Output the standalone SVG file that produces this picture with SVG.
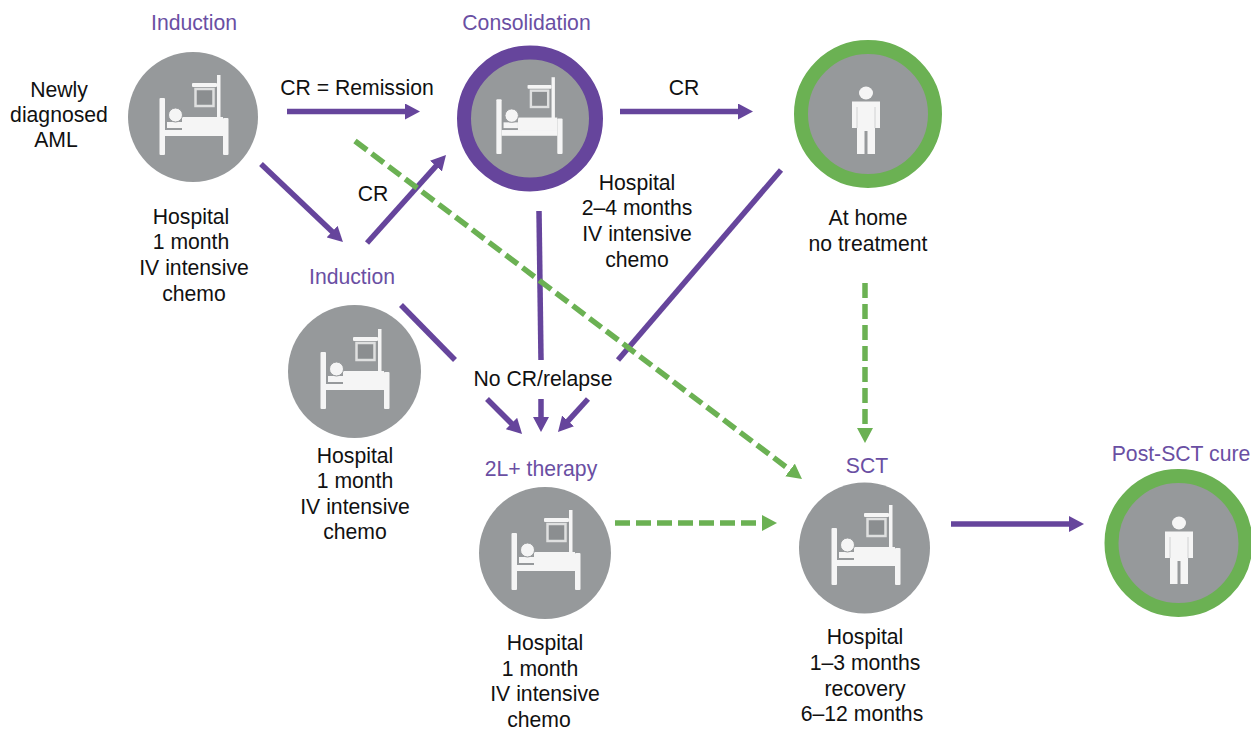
<svg xmlns="http://www.w3.org/2000/svg" width="1251" height="729" viewBox="0 0 1251 729">
<style>
text{font-family:"Liberation Sans",Arial,sans-serif;font-size:21.2px;fill:#111;text-anchor:middle}
.t{fill:#6a4fa3}
.c{fill:#96999b}
.rp{fill:#96999b;stroke:#66459c;stroke-width:14}
.rg{fill:#96999b;stroke:#6bb153;stroke-width:14}
.p{fill:none;stroke:#66459c;stroke-width:5.5}
.g{fill:none;stroke:#6bb153;stroke-width:5.5;stroke-dasharray:15 6}
.w{fill:#f5f5f5}
</style>
<defs>
<marker id="ap" markerUnits="userSpaceOnUse" markerWidth="15" markerHeight="16" refX="5" refY="8" orient="auto" viewBox="0 0 15 16"><path d="M0 0L15 8L0 16Z" fill="#66459c"/></marker>
<marker id="ag" markerUnits="userSpaceOnUse" markerWidth="15" markerHeight="16" refX="5" refY="8" orient="auto" viewBox="0 0 15 16"><path d="M0 0L15 8L0 16Z" fill="#6bb153"/></marker>
<g id="bed">
<rect class="w" x="-33.500" y="-20" width="5.500" height="57" rx="1"/>
<rect class="w" x="30" y="0" width="5.500" height="37" rx="1"/>
<rect class="w" x="-28" y="12" width="58" height="6"/>
<rect class="w" x="-11" y="-1" width="41" height="13"/>
<rect class="w" x="-26" y="4" width="15" height="6"/>
<circle cx="-17.500" cy="-3" r="7" fill="#f5f5f5" stroke="#96999b" stroke-width="1"/>
<rect class="w" x="24" y="-43" width="3.500" height="44"/>
<rect class="w" x="-1" y="-35" width="25" height="4" rx="1"/>
<rect x="2.500" y="-29" width="18" height="17" fill="#8b8e90" stroke="#dfe0e0" stroke-width="2.500"/>
</g>
<g id="person">
<ellipse class="w" cx="0" cy="-21" rx="7" ry="6.500"/>
<path class="w" d="M-14 -12.500H14V14H9V40H1.500V17H-1.500V40H-9V14H-14Z"/>
<path d="M-9 -7V14M9 -7V14" stroke="#d0d1d2" stroke-width="1" fill="none"/>
</g>
</defs>
<g id="connectors">
<path class="p" d="M287 111.500H410" marker-end="url(#ap)"/>
<path class="p" d="M620 111.500H743" marker-end="url(#ap)"/>
<path class="p" d="M261 164L335.700 235.100" marker-end="url(#ap)"/>
<path class="p" d="M367 243L439.300 162.400" marker-end="url(#ap)"/>
<path class="p" d="M539 211L541 360"/>
<path class="p" d="M541 399V422" marker-end="url(#ap)"/>
<path class="p" d="M401 305L455 360"/>
<path class="p" d="M487 399L515 427" marker-end="url(#ap)"/>
<path class="p" d="M781 170L618 360"/>
<path class="p" d="M588 399L564.700 424.600" marker-end="url(#ap)"/>
<path class="p" d="M951 524H1074" marker-end="url(#ap)"/>
<path class="g" d="M355 141L794 473" marker-end="url(#ag)"/>
<path class="g" d="M865 283V433" marker-end="url(#ag)"/>
<path class="g" d="M615 523H767" marker-end="url(#ag)"/>
<text x="357" y="95">CR = Remission</text>
<text x="684" y="95">CR</text>
<text x="373" y="201">CR</text>
</g>
<g id="node-start"><text x="59" y="97">Newly</text><text x="59" y="122">diagnosed</text><text x="56" y="147">AML</text></g>
<g id="node-induction1">
<text class="t" x="194" y="30">Induction</text>
<circle class="c" cx="193" cy="117" r="65"/>
<use href="#bed" x="193" y="118"/>
<text x="191" y="224">Hospital</text><text x="191" y="249">1 month</text><text x="194" y="275">IV intensive</text><text x="194" y="301">chemo</text>
</g>
<g id="node-consolidation">
<text class="t" x="526.500" y="30">Consolidation</text>
<circle class="rp" cx="530" cy="118.500" r="66"/>
<use href="#bed" transform="translate(528.500 118.500) scale(.96)"/>
<text x="637" y="190">Hospital</text><text x="637" y="215">2–4 months</text><text x="637" y="241">IV intensive</text><text x="637" y="267">chemo</text>
</g>
<g id="node-home">
<circle class="rg" cx="868" cy="114" r="67"/>
<use href="#person" x="866" y="114"/>
<text x="868" y="225">At home</text><text x="868" y="251">no treatment</text>
</g>
<g id="node-induction2">
<text class="t" x="352" y="284">Induction</text>
<circle class="c" cx="354.500" cy="371.500" r="66.500"/>
<use href="#bed" x="354" y="372"/>
<text x="355" y="463">Hospital</text><text x="355" y="488">1 month</text><text x="355" y="514">IV intensive</text><text x="355" y="539">chemo</text>
</g>
<g id="node-relapse"><text x="543" y="386">No CR/relapse</text></g>
<g id="node-2l">
<text class="t" x="541" y="476">2L+ therapy</text>
<circle class="c" cx="545" cy="553" r="66"/>
<use href="#bed" x="545" y="553"/>
<text x="545" y="650">Hospital</text><text x="540" y="676">1 month</text><text x="545" y="701">IV intensive</text><text x="539" y="727">chemo</text>
</g>
<g id="node-sct">
<text class="t" x="867" y="473">SCT</text>
<circle class="c" cx="864.500" cy="548" r="65.500"/>
<use href="#bed" x="865" y="548"/>
<text x="865" y="644">Hospital</text><text x="865" y="670">1–3 months</text><text x="865" y="696">recovery</text><text x="862" y="721">6–12 months</text>
</g>
<g id="node-cure">
<text class="t" x="1181" y="461">Post-SCT cure</text>
<circle class="rg" cx="1178.500" cy="543" r="67"/>
<use href="#person" x="1179" y="544"/>
</g>
</svg>
